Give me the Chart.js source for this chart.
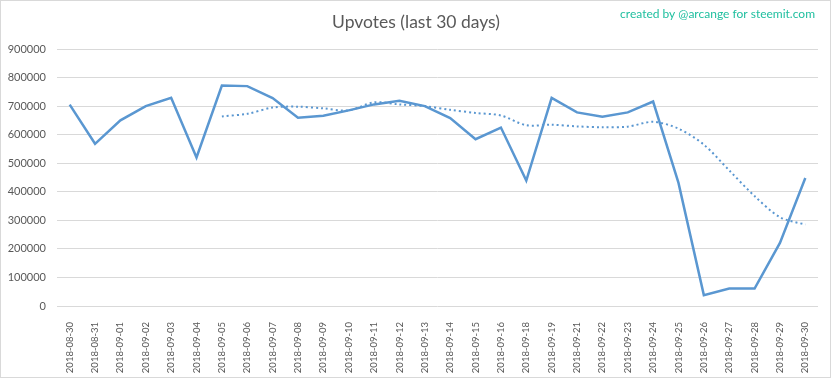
<!DOCTYPE html>
<html><head><meta charset="utf-8">
<script src="https://cdn.jsdelivr.net/npm/chart.js@4"></script>
<style>
html,body{margin:0;padding:0;background:#fff;}
#wrap{position:absolute;left:0;top:0;width:829px;height:376px;border:1px solid #d9d9d9;}
canvas{position:absolute;left:0;top:0;}
</style></head><body>
<div id="wrap"></div>
<canvas id="c" width="832" height="379"></canvas>
<script>
const categories = ["2018-08-30","2018-08-31","2018-09-01","2018-09-02","2018-09-03","2018-09-04","2018-09-05","2018-09-06","2018-09-07","2018-09-08","2018-09-09","2018-09-10","2018-09-11","2018-09-12","2018-09-13","2018-09-14","2018-09-15","2018-09-16","2018-09-18","2018-09-19","2018-09-21","2018-09-22","2018-09-23","2018-09-24","2018-09-25","2018-09-26","2018-09-27","2018-09-28","2018-09-29","2018-09-30"];
const upvotes = [705000,568000,650000,700000,729000,520000,772000,770000,728000,659000,666000,685000,706000,719000,700000,658000,584000,625000,439000,729000,678000,663000,678000,716000,431000,38000,61000,61000,221000,448000];
const movingAvg = [null,null,null,null,null,null,664000,673000,695000,698000,692000,685000,713000,706000,700000,687000,676000,667000,633000,635000,629000,626000,628000,645000,621000,565000,475000,385000,311000,285000];
const yTicks = [0,100000,200000,300000,400000,500000,600000,700000,800000,900000];
const titleText = "Upvotes (last 30 days)";
const creditText = "created by @arcange for steemit.com";

const textPlugin = {
  id: 'texts',
  afterDraw(chart) {
    const ctx = chart.ctx;
    ctx.save();
    ctx.fillStyle = '#595959';
    ctx.font = '17.5px Lato';
    ctx.textAlign = 'center';
    ctx.textBaseline = 'middle';
    ctx.fillText(titleText, 416, 22);
    ctx.fillStyle = '#1fbf9f';
    ctx.font = '12px Lato';
    ctx.textAlign = 'right';
    ctx.fillText(creditText, 815, 14);
    ctx.restore();
  }
};

new Chart(document.getElementById('c'), {
  type: 'line',
  data: {
    labels: categories,
    datasets: [
      {data: upvotes, borderColor: '#5a97d1', borderWidth: 2.5, pointRadius: 0, tension: 0, fill: false},
      {data: movingAvg, borderColor: '#5a97d1', borderWidth: 2, borderDash: [2,3], pointRadius: 0, tension: 0.3, fill: false, spanGaps: false}
    ]
  },
  options: {
    responsive: false,
    animation: false,
    layout: {padding: {top: 49, right: 14, left: 0, bottom: 0}},
    plugins: {legend: {display: false}, tooltip: {enabled: false}, title: {display: false}},
    scales: {
      x: {
        type: 'category',
        offset: true,
        grid: {display: false},
        border: {display: false},
        ticks: {color: '#595959', font: {family: 'Lato', size: 9.5}, maxRotation: 90, minRotation: 90, autoSkip: false, padding: 8},
        afterFit(s) { s.height = 73; }
      },
      y: {
        min: 0, max: 900000,
        afterBuildTicks(s) { s.ticks = yTicks.map(v => ({value: v})); },
        grid: {color: '#d9d9d9', lineWidth: 1, drawTicks: false},
        border: {display: false},
        ticks: {color: '#595959', font: {family: 'Lato', size: 11}, padding: 11, callback: v => String(v)},
        afterFit(s) { s.width = 57; }
      }
    }
  },
  plugins: [textPlugin]
});
</script>
</body></html>
